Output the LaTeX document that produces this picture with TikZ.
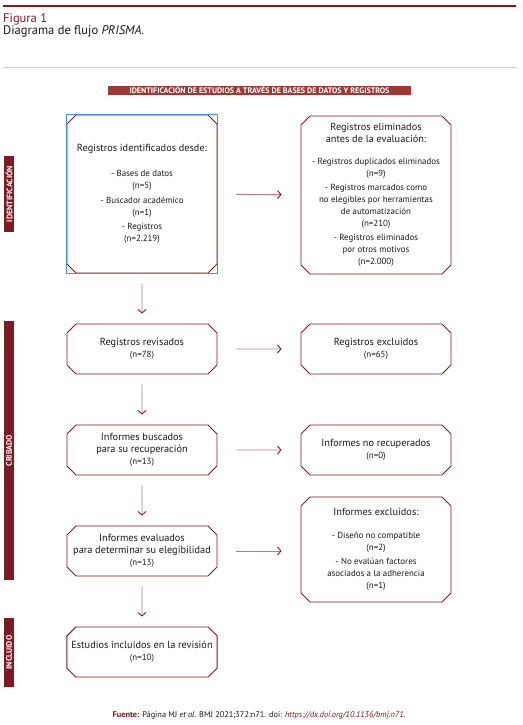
\documentclass[tikz,border=0pt]{standalone}
\usepackage{fontspec}
\setmainfont{PT Sans}
\usetikzlibrary{arrows.meta,shapes.misc}
\definecolor{PrismaRed}{HTML}{7C1B21}
\definecolor{HeaderRed}{HTML}{9C3A36}
\definecolor{ArrowShaft}{HTML}{B38283}
\definecolor{RuleGray}{HTML}{DCCBCB}
\definecolor{FrameBlue}{HTML}{4A90E2}
\definecolor{TextColor}{HTML}{1A1A1A}
\newcommand{\ttl}{\fontsize{10.3}{10.5}\selectfont}
\newcommand{\itm}{\fontsize{8.9}{10.3}\selectfont}
\tikzset{
	stagebox/.style={chamfered rectangle, chamfered rectangle sep=4.5pt, draw=PrismaRed, line width=0.9pt, fill=white,
		align=center, inner sep=0pt, text=TextColor, minimum width=150pt, minimum height=50pt},
	sidebar/.style={fill=PrismaRed, text=white, rotate=90, minimum height=10pt, inner sep=0pt,
		font=\bfseries\fontsize{8}{8}\selectfont},
	flowarrow/.style={-{Straight Barb[length=3.5pt,width=8pt,color=PrismaRed]}, line width=0.9pt, draw=ArrowShaft,
		shorten <=10pt, shorten >=10pt},
	sidearrow/.style={flowarrow, shorten <=19pt, shorten >=19pt},
}

\begin{document}
\begin{tikzpicture}[x=1pt,y=-1pt]
	\useasboundingbox[fill=white] (0,0) rectangle (522,725);

	% heading
	\draw[PrismaRed, line width=2.5pt] (3,6) -- (516,6);
	\node[anchor=west, inner sep=0pt, text=PrismaRed, font=\fontsize{12.5}{14}\selectfont] (figlabel) at (3,19) {Figura 1};
	\node[anchor=west, inner sep=0pt, text=TextColor, font=\fontsize{12.5}{14}\selectfont] (figtitle) at (3,31) {Diagrama de flujo \textit{PRISMA}.};
	\draw[RuleGray, line width=0.8pt] (3,67) -- (517,67);

	\node[fill=HeaderRed, text=white, minimum width=303pt, minimum height=9pt, inner sep=0pt, font=\bfseries\fontsize{8}{8}\selectfont] (header) at (259.5,90.5) {IDENTIFICACIÓN DE ESTUDIOS A TRAVÉS DE BASES DE DATOS Y REGISTROS};

	% phases
	\node[sidebar, minimum width=76pt] (phaseid) at (9,194) {IDENTIFICACIÓN};
	\node[sidebar, minimum width=259pt] (phasescr) at (9,450.5) {CRIBADO};
	\node[sidebar, minimum width=69pt] (phaseinc) at (9,652.5) {INCLUIDO};

	% boxes
	\node[stagebox, minimum height=158pt] (ident) at (142,194) {\ttl Registros identificados desde:\\[13pt]
		\itm - Bases de datos\\ \itm (n=5)\\[2.5pt] \itm - Buscador académico\\ \itm (n=1)\\[2.5pt] \itm - Registros\\ \itm (n=2.219)};
	\draw[FrameBlue, line width=0.9pt] (ident.west |- ident.north) rectangle (ident.east |- ident.south);
	\node[stagebox, minimum height=158pt] (removed) at (376,195) {\ttl Registros eliminados\\ \ttl antes de la evaluación:\\[10pt]
		\itm - Registros duplicados eliminados\\ \itm (n=9)\\[2pt] \itm - Registros marcados como\\ \itm no elegibles por herramientas\\ \itm de automatización\\ \itm (n=210)\\[2pt]
		\itm - Registros eliminados\\ \itm por otros motivos\\ \itm (n=2.000)};
	\node[stagebox] (screened) at (142,349) {\ttl Registros revisados\\ \itm (n=78)};
	\node[stagebox] (excluded) at (376,349) {\ttl Registros excluidos\\ \itm (n=65)};
	\node[stagebox] (sought) at (142,450) {\ttl Informes buscados\\ \ttl para su recuperación\\ \itm (n=13)};
	\node[stagebox] (notret) at (376,450) {\ttl Informes no recuperados\\ \itm (n=0)};
	\node[stagebox] (assessed) at (142,551) {\ttl Informes evaluados\\ \ttl para determinar su elegibilidad\\ \itm (n=13)};
	\node[stagebox, minimum height=105pt] (reportsexcl) at (376,549.5) {\ttl Informes excluidos:\\[11pt]
		\itm - Diseño no compatible\\ \itm (n=2)\\[2pt] \itm - No evalúan factores\\ \itm asociados a la adherencia\\ \itm (n=1)};
	\node[stagebox] (included) at (142,652) {\ttl Estudios incluidos en la revisión\\ \itm (n=10)};

	% connectors
	\draw[sidearrow] (ident) -- (removed);
	\draw[sidearrow] (screened) -- (excluded);
	\draw[sidearrow] (sought) -- (notret);
	\draw[sidearrow] (assessed.east) -- (assessed.east -| reportsexcl.west);
	\draw[flowarrow] (ident) -- (screened);
	\draw[flowarrow] (screened) -- (sought);
	\draw[flowarrow] (sought) -- (assessed);
	\draw[flowarrow] (assessed) -- (included);

	\node[text=TextColor, font=\fontsize{8.3}{9}\selectfont] (source) at (259,715) {\textcolor{PrismaRed}{\bfseries Fuente:} Página MJ \textit{et al}. BMJ 2021;372:n71. doi: \textcolor{PrismaRed}{\textit{https://dx.doi.org/10.1136/bmj.n71}}.};
\end{tikzpicture}
\end{document}
